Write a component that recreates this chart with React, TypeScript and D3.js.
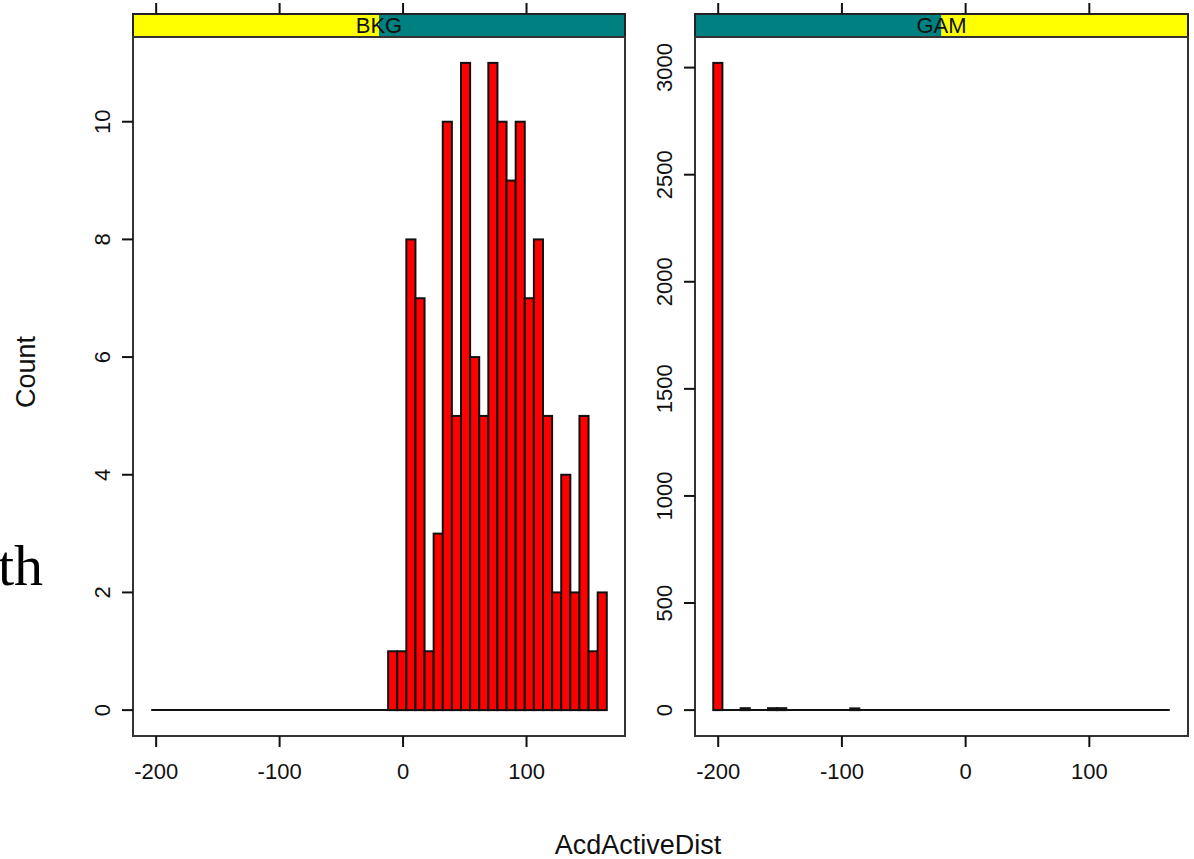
import * as d3 from "d3";
import React from "react";

// histogram bins shared by both panels
const binStart = -204;
const binEnd = 165;
const binTotal = 50;

const panelNames = ["BKG", "GAM"];

// counts per bin (50 bins from -204 to 165)
const bkgCounts = [
  0, 0, 0, 0, 0, 0, 0, 0, 0, 0,
  0, 0, 0, 0, 0, 0, 0, 0, 0, 0,
  0, 0, 0, 0, 0, 0, 1, 1, 8, 7,
  1, 3, 10, 5, 11, 6, 5, 11, 10, 9,
  10, 7, 8, 5, 2, 4, 2, 5, 1, 2,
];
const gamCounts = [
  3022, 0, 0, 9, 0, 0, 9, 9, 0, 0,
  0, 0, 0, 0, 0, 8, 0, 0, 0, 0,
  0, 0, 0, 0, 0, 0, 0, 0, 0, 0,
  0, 0, 0, 0, 0, 0, 0, 0, 0, 0,
  0, 0, 0, 0, 0, 0, 0, 0, 0, 0,
];

const xTicks = [-200, -100, 0, 100];
const bkgYTicks = [0, 2, 4, 6, 8, 10];
const gamYTicks = [0, 500, 1000, 1500, 2000, 2500, 3000];

const font = "'Liberation Sans', Arial, sans-serif";

function Panel({ x0, x1, name, counts, yTicks, stripLeft }) {
  const top = 37;
  const bottom = 736;
  const stripTop = 14;

  const pad = (binEnd - binStart) * 0.04;
  const x = d3.scaleLinear().domain([binStart - pad, binEnd + pad]).range([x0, x1]);
  const yMax = d3.max(counts);
  const yPad = yMax * 0.04;
  const y = d3.scaleLinear().domain([-yPad, yMax + yPad]).range([bottom, top]);

  const w = (binEnd - binStart) / binTotal;
  const bins = counts.map((c, i) => ({ lo: binStart + i * w, hi: binStart + (i + 1) * w, c }));
  const mid = (x0 + x1) / 2;

  return (
    <g>
      {/* strip */}
      <rect x={x0} y={stripTop} width={mid - x0} height={top - stripTop} fill={stripLeft} />
      <rect x={mid} y={stripTop} width={x1 - mid} height={top - stripTop}
        fill={stripLeft === "#ffff00" ? "#008080" : "#ffff00"} />
      <rect x={x0} y={stripTop} width={x1 - x0} height={top - stripTop} fill="none" stroke="#222" strokeWidth={2} />
      <text x={mid} y={33} textAnchor="middle" fontFamily={font} fontSize={22} fill="#111">{name}</text>

      {/* baseline */}
      <line x1={x(binStart)} x2={x(binEnd)} y1={y(0)} y2={y(0)} stroke="#111" strokeWidth={2} />
      {bins.filter((b) => b.c > 0).map((b, i) => (
        <rect key={i} x={x(b.lo)} y={y(b.c)} width={x(b.hi) - x(b.lo)} height={y(0) - y(b.c)}
          fill="#ff0000" stroke="#111" strokeWidth={2} />
      ))}

      {/* panel box */}
      <rect x={x0} y={top} width={x1 - x0} height={bottom - top} fill="none" stroke="#333" strokeWidth={2} />

      {/* x ticks top and bottom */}
      {xTicks.map((t) => (
        <g key={t}>
          <line x1={x(t)} x2={x(t)} y1={3} y2={stripTop} stroke="#111" strokeWidth={2} />
          <line x1={x(t)} x2={x(t)} y1={bottom} y2={bottom + 11} stroke="#111" strokeWidth={2} />
          <text x={x(t)} y={779} textAnchor="middle" fontFamily={font} fontSize={22} fill="#111">{t}</text>
        </g>
      ))}

      {/* y ticks */}
      {yTicks.map((t) => (
        <g key={t}>
          <line x1={x0 - 11} x2={x0} y1={y(t)} y2={y(t)} stroke="#111" strokeWidth={2} />
          <text transform={`translate(${x0 - 23},${y(t)}) rotate(-90)`} textAnchor="middle"
            fontFamily={font} fontSize={22} fill="#111">{t}</text>
        </g>
      ))}
    </g>
  );
}

export default function App() {
  return (
    <svg width={1194} height={859} style={{ position: "absolute", left: 0, top: 0, background: "#fff" }}>
      <text x={43} y={585} textAnchor="end" fontFamily="'Liberation Serif', 'Times New Roman', serif"
        fontSize={58} fill="#000">th</text>

      <Panel x0={133} x1={625} name={panelNames[0]} counts={bkgCounts} yTicks={bkgYTicks} stripLeft="#ffff00" />
      <Panel x0={695} x1={1188} name={panelNames[1]} counts={gamCounts} yTicks={gamYTicks} stripLeft="#008080" />

      <text transform="translate(35,372) rotate(-90)" textAnchor="middle" fontFamily={font}
        fontSize={27} fill="#111">Count</text>
      <text x={638} y={854} textAnchor="middle" fontFamily={font} fontSize={27} fill="#111">AcdActiveDist</text>
    </svg>
  );
}
